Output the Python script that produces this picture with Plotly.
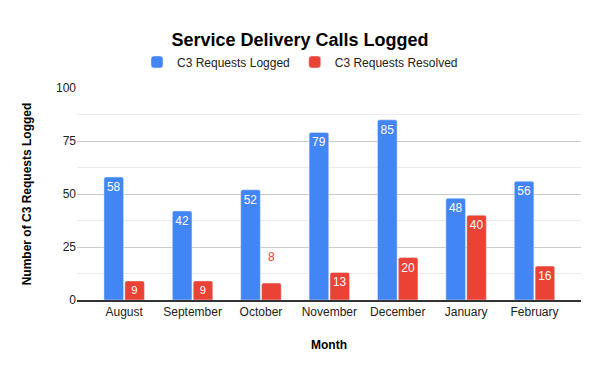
import plotly.graph_objects as go

months = ["August", "September", "October", "November", "December", "January", "February"]
logged = [58, 42, 52, 79, 85, 48, 56]
resolved = [9, 9, 8, 13, 20, 40, 16]
y_ticks = [0, 25, 50, 75, 100]

BLUE = "#4285F4"
RED = "#EA4335"
FONT = "Liberation Sans, Arial, sans-serif"

res_pos = ["outside" if i == 2 else "inside" for i in range(len(resolved))]
res_color = [RED if p == "outside" else "white" for p in res_pos]
res_text = [f"{v}<br> " if p == "outside" else str(v) for v, p in zip(resolved, res_pos)]

fig = go.Figure()
fig.add_trace(go.Bar(
    x=months, y=logged, name="C3 Requests Logged", marker_color=BLUE,
    text=logged, textposition="inside", insidetextanchor="end",
    textfont=dict(color="white", size=12, family=FONT), textangle=0,
))
fig.add_trace(go.Bar(
    x=months, y=resolved, name="C3 Requests Resolved", marker_color=RED,
    text=res_text, textposition=res_pos, insidetextanchor="end",
    textfont=dict(color=res_color, size=12, family=FONT), textangle=0,
    cliponaxis=False,
))

fig.update_layout(
    width=600, height=371,
    paper_bgcolor="white", plot_bgcolor="white",
    margin=dict(l=77, r=19, t=88, b=71, autoexpand=False),
    font=dict(family=FONT, size=12, color="#222222"),
    title=dict(text="<b>Service Delivery Calls Logged</b>", x=0.5, xanchor="center",
               y=1 - 40 / 371, yanchor="middle", font=dict(size=18, color="#000000", family=FONT)),
    legend=dict(orientation="h", xref="container", x=0.5, xanchor="center",
                y=(300 - 62) / 212, yanchor="middle",
                font=dict(size=12, color="#222222")),
    barmode="group", bargap=0.39, bargroupgap=0.06, barcornerradius=2,
)
fig.update_xaxes(
    title=dict(text="<b>Month</b>", font=dict(size=12, color="#000000"), standoff=22),
    range=[-0.69, 6.68],
    showline=True, linecolor="#333333", linewidth=1.5, ticks="", automargin=False,
    tickfont=dict(size=12, color="#222222"),
)
fig.update_yaxes(
    title=dict(text="<b>Number of C3 Requests Logged</b>", font=dict(size=12, color="#000000"), standoff=21),
    range=[0, 100], tickvals=y_ticks, ticktext=[str(t) for t in y_ticks],
    showgrid=True, gridcolor="#cccccc", gridwidth=1, zeroline=False, automargin=False,
    minor=dict(tick0=0, dtick=12.5, showgrid=True, gridcolor="#ebebeb", ticks=""),
    tickfont=dict(size=12, color="#222222"), ticks="",
)

fig.write_html("out.html", config={"displayModeBar": False},
               post_script="document.body.style.margin='0';")
